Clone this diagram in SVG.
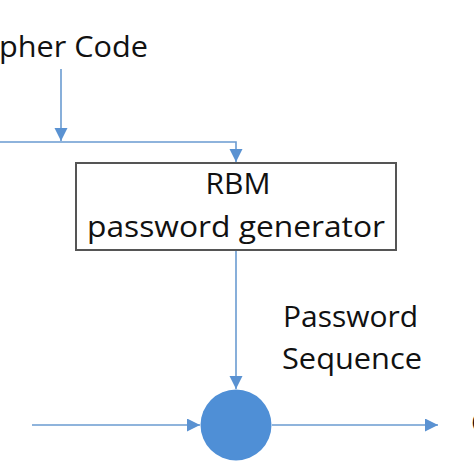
<svg xmlns="http://www.w3.org/2000/svg" width="474" height="474" viewBox="0 0 474 474">
<style>
.t{font-family:"Open Sans","Liberation Sans",sans-serif;font-size:29.5px;fill:#111111}
.c{fill:none;stroke:#6a9bd1;stroke-width:1.6}
</style>
<defs>
<marker id="ah" markerUnits="userSpaceOnUse" markerWidth="14" markerHeight="14" refX="13" refY="6.5" orient="auto">
<path d="M0,0 L13,6.5 L0,13 z" fill="#5a92d2"/>
</marker>
</defs>
<rect width="474" height="474" fill="#ffffff"/>
<g id="cipher-code">
<text class="t" x="-1" y="57" textLength="149" lengthAdjust="spacingAndGlyphs">pher Code</text>
</g>
<g id="rbm">
<rect x="76" y="163" width="320" height="87" fill="#ffffff" stroke="#555555" stroke-width="2"/>
<text class="t" x="238" y="194" text-anchor="middle" textLength="65" lengthAdjust="spacingAndGlyphs">RBM</text>
<text class="t" x="236" y="237" text-anchor="middle" textLength="298" lengthAdjust="spacingAndGlyphs">password generator</text>
</g>
<g id="password-sequence">
<text class="t" x="283" y="327" textLength="135" lengthAdjust="spacingAndGlyphs">Password</text>
<text class="t" x="282" y="369" textLength="140" lengthAdjust="spacingAndGlyphs">Sequence</text>
</g>
<g id="mixer">
<circle cx="236" cy="425" r="35.5" fill="#4f8fd6"/>
</g>
<g id="output">
<text class="t" x="471" y="433">C</text>
</g>
<g id="connectors">
<path class="c" d="M61,69 V141" marker-end="url(#ah)"/>
<path class="c" d="M0,142 H236 V162" marker-end="url(#ah)"/>
<path class="c" d="M236,251 V389" marker-end="url(#ah)"/>
<path class="c" d="M32,425 H200" marker-end="url(#ah)"/>
<path class="c" d="M272,425 H438" marker-end="url(#ah)"/>
</g>
</svg>
